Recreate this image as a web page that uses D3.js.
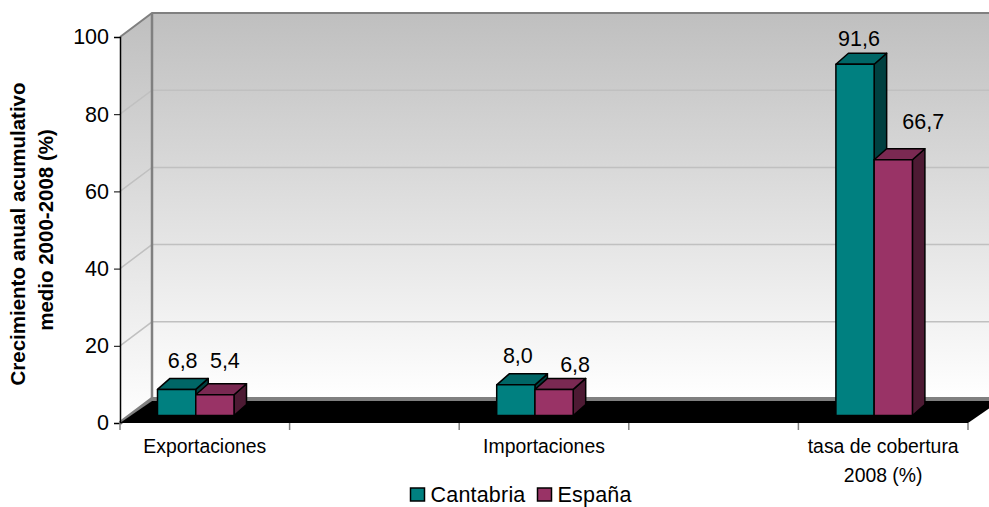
<!DOCTYPE html>
<html><head><meta charset="utf-8">
<script src="https://cdn.jsdelivr.net/npm/d3@7"></script>
<style>html,body{margin:0;padding:0;background:#fff}svg{display:block}text{font-family:"Liberation Sans",Arial,sans-serif;fill:#000}</style>
</head><body><svg id="c" width="989" height="507"></svg>
<script>
const categories = ["Exportaciones", "", "Importaciones", "", "tasa de cobertura\n2008 (%)"];
const seriesNames = ["Cantabria", "España"];
const cantabria = [6.8, null, 8.0, null, 91.6];
const espana = [5.4, null, 6.8, null, 66.7];
const valueLabels = [["6,8", null, "8,0", null, "91,6"], ["5,4", null, "6,8", null, "66,7"]];
const yTicks = [0, 20, 40, 60, 80, 100];
const yTitle = ["Crecimiento anual acumulativo", "medio 2000-2008 (%)"];
// hand placement of the data labels relative to the bar's front centre (dx, baseline dy above top)
const labelShift = [[[6, 21.4], null, [2, 22], null, [4, 18]], [[10, 27], null, [21, 17.4], null, [30, 30.7]]];

const W = 989, H = 507;
const svg = d3.select("#c");
const depth = {x: 32, y: -24};
const barDepth = {x: 12.5, y: -11};
const x = d3.scaleBand().domain(d3.range(categories.length)).range([120, 968]);
const y = d3.scaleLinear().domain([0, 100]).range([423, 37]);
const yBar = d3.scaleLinear().domain([0, 100]).range([415.5, 32]);
const groupX = d3.scaleBand().domain(d3.range(2)).range([37.5, 114]);

const defs = svg.append("defs");
const g1 = defs.append("linearGradient").attr("id", "wall").attr("x1", 0).attr("x2", 0).attr("y1", 0).attr("y2", 1);
g1.append("stop").attr("offset", 0).attr("stop-color", "#bfbfbf");
g1.append("stop").attr("offset", 1).attr("stop-color", "#ffffff");
const g2 = defs.append("linearGradient").attr("id", "side").attr("gradientUnits", "userSpaceOnUse").attr("x1", 0).attr("x2", 0).attr("y1", 13).attr("y2", 423);
g2.append("stop").attr("offset", 0).attr("stop-color", "#bfbfbf");
g2.append("stop").attr("offset", 1).attr("stop-color", "#ffffff");

const line = d3.line();
const [x0, x1] = x.range();
const y0 = y(0), yT = y(100);
// walls
svg.append("path").attr("d", line([[x0 + depth.x, yT + depth.y], [x1 + depth.x, yT + depth.y], [x1 + depth.x, y0 + depth.y], [x0 + depth.x, y0 + depth.y]]) + "Z").attr("fill", "url(#wall)");
svg.append("path").attr("d", line([[x0, yT], [x0 + depth.x, yT + depth.y], [x0 + depth.x, y0 + depth.y], [x0, y0]]) + "Z").attr("fill", "url(#side)");
// grid
yTicks.slice(1, 5).forEach(t => {
  svg.append("path").attr("d", line([[x0, y(t)], [x0 + depth.x, y(t) + depth.y], [x1 + depth.x, y(t) + depth.y]]))
    .attr("fill", "none").attr("stroke", "#c0c0c0").attr("stroke-width", 1.5);
});
// wall edges
svg.append("path").attr("d", line([[x0, yT], [x0 + depth.x, yT + depth.y], [x1 + depth.x, yT + depth.y]])).attr("fill", "none").attr("stroke", "#808080").attr("stroke-width", 2);
svg.append("path").attr("d", line([[x0 + depth.x, yT + depth.y], [x0 + depth.x, y0 + depth.y]])).attr("fill", "none").attr("stroke", "#808080").attr("stroke-width", 2.5);
svg.append("path").attr("d", line([[x0, y0], [x0 + depth.x, y0 + depth.y], [x1 + depth.x, y0 + depth.y]])).attr("fill", "none").attr("stroke", "#808080").attr("stroke-width", 4);
// floor
svg.append("path").attr("d", line([[x0, y0], [x0 + depth.x, y0 + depth.y + 2], [x1 + depth.x, y0 + depth.y + 2], [x1, y0]]) + "Z").attr("fill", "#000");

// axes
const yAxisG = svg.append("g").attr("transform", `translate(${x0},0)`).call(d3.axisLeft(y).tickValues(yTicks).tickSize(6).tickPadding(5).tickFormat(d3.format("d")));
yAxisG.select(".domain").attr("stroke", "#000").attr("stroke-width", 1.5);
yAxisG.selectAll("line").attr("stroke", "#000");
yAxisG.selectAll("text").style("font-family", '"Liberation Sans"').style("font-size", "21.5px").attr("fill", "#000");
const tickXs = d3.range(categories.length + 1).map(i => i === categories.length ? x1 : x(i));
svg.append("g").selectAll("line").data(tickXs).join("line").attr("x1", d => d).attr("x2", d => d).attr("y1", y0).attr("y2", y0 + 7).attr("stroke", "#808080").attr("stroke-width", 1.5);

// bars
const colors = [{f: "#008080", t: "#006666", s: "#004040"}, {f: "#993366", t: "#7a2952", s: "#4d1a33"}];
[cantabria, espana].forEach((vals, s) => {
  const c = colors[s];
  const g = svg.append("g");
  vals.forEach((v, i) => {
    if (v === null) return;
    const l = x(i) + groupX(s), r = l + groupX.bandwidth(), t = yBar(v), b = yBar(0);
    const dx = barDepth.x, dy = barDepth.y;
    const st = sel => sel.attr("stroke", "#000").attr("stroke-width", 1.5).attr("stroke-linejoin", "round");
    g.append("path").attr("d", line([[r, t], [r + dx, t + dy], [r + dx, b + dy], [r, b]]) + "Z").attr("fill", c.s).call(st);
    g.append("path").attr("d", line([[l, t], [l + dx, t + dy], [r + dx, t + dy], [r, t]]) + "Z").attr("fill", c.t).call(st);
    g.append("rect").attr("x", l).attr("y", t).attr("width", r - l).attr("height", b - t).attr("fill", c.f).call(st);
  });
});
// value labels
[cantabria, espana].forEach((vals, s) => vals.forEach((v, i) => {
  if (v === null) return;
  const [dx, dy] = labelShift[s][i];
  svg.append("text").attr("x", x(i) + groupX(s) + groupX.bandwidth() / 2 + dx).attr("y", yBar(v) - dy)
    .attr("text-anchor", "middle").style("font-size", "21.5px").text(valueLabels[s][i]);
}));
// category labels
categories.forEach((c, i) => {
  if (!c) return;
  c.split("\n").forEach((t, k) => svg.append("text").attr("x", x(i) + x.bandwidth() / 2).attr("y", 453 + k * 28.5)
    .attr("text-anchor", "middle").style("font-size", "19.4px").text(t));
});
// y title
yTitle.forEach((t, k) => svg.append("text").attr("transform", `translate(${25 + k * 28},${234 - k * 4}) rotate(-90)`)
  .attr("text-anchor", "middle").style("font-size", "20.5px").style("font-weight", "bold").text(t));
// legend
const legX = [410, 537];
seriesNames.forEach((n, i) => {
  svg.append("rect").attr("x", legX[i] + 0.5).attr("y", 488).attr("width", 14).attr("height", 13).attr("fill", colors[i].f).attr("stroke", "#000").attr("stroke-width", 1.5);
  svg.append("text").attr("x", legX[i] + 20.5).attr("y", 502).style("font-size", "21.5px").style("letter-spacing", "0.2px").text(n);
});
</script></body></html>
